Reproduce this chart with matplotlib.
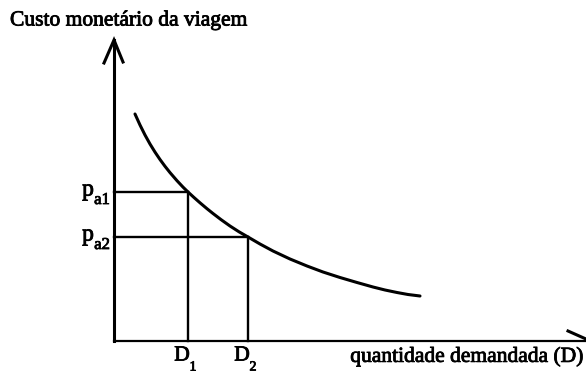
import matplotlib
matplotlib.use("Agg")
import matplotlib.pyplot as plt
import matplotlib.patheffects as pe

# curva de demanda (quantidade, custo)
quantidade = [21, 26, 31, 36, 41, 46, 51, 56, 63, 69, 74, 80, 86, 93, 99, 107,
              116, 125, 134, 146, 159, 176, 193, 209, 226, 243, 259, 271, 283, 294, 306]
custo = [227, 216, 206, 197, 188.9, 181.5, 174.7, 168.4, 160.3, 153.9, 149, 143.5,
         138.2, 132.3, 127.5, 121.4, 115.0, 109.2, 104, 97, 90, 82, 75, 69, 63.5,
         58.5, 54, 51, 48.5, 46.5, 45]

D = [74, 134]
p_a = [149, 104]
rotulos_D = ["1", "2"]
rotulos_p = ["a1", "a2"]

plt.rcParams["font.family"] = ["Liberation Serif", "DejaVu Serif"]

# traço um pouco mais grosso nos textos
grosso = [pe.withStroke(linewidth=0.6, foreground="black")]

fig = plt.figure(figsize=(5.86, 3.74), dpi=100)
ax = fig.add_axes([0, 0, 1, 1])
ax.set_xlim(-114, 472)
ax.set_ylim(-33, 341)
ax.axis("off")

lw_eixo = 2.2
# eixos
ax.plot([0, 0], [0, 301], color="black", lw=lw_eixo)
ax.plot([-10, 0, 9], [278, 301, 279], color="black", lw=lw_eixo,
        solid_joinstyle="miter")
ax.plot([0, 472], [0, 0], color="black", lw=1.6)
ax.plot([454, 472], [10, 2], color="black", lw=lw_eixo)

# curva
ax.plot(quantidade, custo, color="black", lw=2.2, solid_capstyle="round",
        solid_joinstyle="round")

# linhas de referência
for d, p in zip(D, p_a):
    ax.plot([0, d], [p, p], color="black", lw=1.7)
    ax.plot([d, d], [0, p], color="black", lw=1.7)

for p, r in zip(p_a, rotulos_p):
    ax.text(-26, p + 2, "p", fontsize=17, ha="center", va="center", path_effects=grosso)
    ax.text(-12, p - 8, r, fontsize=12, ha="center", va="center", path_effects=grosso)

for d, r in zip(D, rotulos_D):
    ax.text(d - 6, -15, "D", fontsize=15.5, ha="center", va="center", path_effects=grosso)
    ax.text(d + 5, -26, r, fontsize=10, ha="center", va="center", path_effects=grosso)

ax.text(-104, 320, "Custo monetário da viagem", fontsize=15.5, ha="left", va="center",
        path_effects=grosso)
ax.text(469, -16, "quantidade demandada (D)", fontsize=15.5, ha="right", va="center",
        path_effects=grosso)

fig.savefig("out.png", dpi=100)
